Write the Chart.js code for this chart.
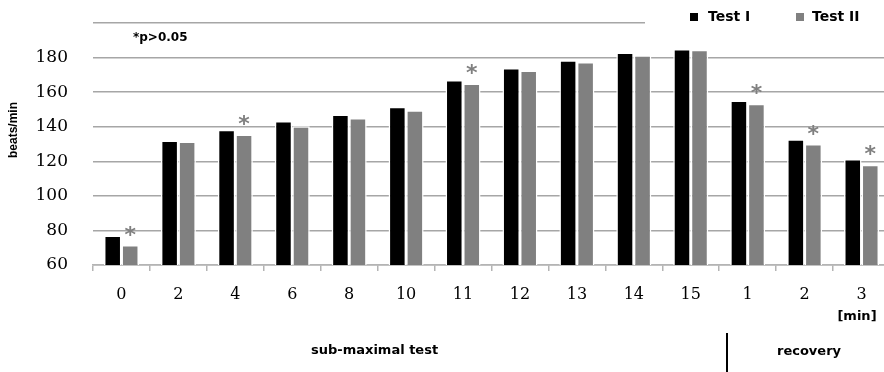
<!DOCTYPE html>
<html>
<head>
<meta charset="utf-8">
<script src="https://cdn.jsdelivr.net/npm/chart.js@4.4.1/dist/chart.umd.min.js"></script>
<style>
html,body{margin:0;padding:0;overflow:hidden;background:#fff;}
#wrap{width:890px;height:372px;}
</style>
</head>
<body>
<div id="wrap"><canvas id="c" width="890" height="372"></canvas></div>
<script>
const categories = ['0','2','4','6','8','10','11','12','13','14','15','1','2','3'];
const testI  = [77, 132, 138.3, 143.3, 147, 151.5, 167, 174, 178.5, 183, 185, 155.2, 132.8, 121.3];
const testII = [71.5, 131.5, 135.5, 140.2, 145, 149.5, 165, 172.5, 177.5, 181.3, 184.5, 153.3, 130, 118];
const significant = [true, false, true, false, false, false, true, false, false, false, false, true, true, true];
const yTicks = [60, 80, 100, 120, 140, 160, 180, 200];
const hiddenTickLabels = [200];

const BLACK = '#000000';
const GREY = '#808080';

const annotations = {
  id: 'annotations',
  beforeDatasetsDraw(chart) {
    const ctx = chart.ctx;
    ctx.save();
    ctx.fillStyle = '#ffffff';
    ctx.fillRect(645, 0, chart.width - 645, 30);
    ctx.restore();
  },
  afterDatasetsDraw(chart) {
    const ctx = chart.ctx;
    const meta = chart.getDatasetMeta(1);
    ctx.save();
    ctx.fillStyle = GREY;
    ctx.font = 'bold 22px "DejaVu Sans"';
    ctx.textAlign = 'center';
    ctx.textBaseline = 'middle';
    meta.data.forEach((bar, i) => {
      if (significant[i]) ctx.fillText('*', bar.x, bar.y - 9);
    });
    ctx.restore();
  },
  afterDraw(chart) {
    const ctx = chart.ctx;
    ctx.save();
    ctx.textBaseline = 'middle';
    ctx.textAlign = 'left';
    // legend
    ctx.fillStyle = BLACK;
    ctx.fillRect(690, 13, 8, 8);
    ctx.fillStyle = GREY;
    ctx.fillRect(796, 13, 8, 8);
    ctx.fillStyle = '#000';
    ctx.font = 'bold 14px "DejaVu Sans"';
    ctx.fillText('Test I', 708, 17);
    ctx.fillText('Test II', 812, 17);
    // significance note
    ctx.font = 'bold 12px "DejaVu Sans"';
    ctx.fillText('*p>0.05', 133, 38);
    // axis unit and phase labels
    ctx.font = 'bold 13px "DejaVu Sans"';
    ctx.textAlign = 'center';
    ctx.fillText('[min]', 857, 317);
    ctx.textAlign = 'left';
    ctx.fillText('sub-maximal test', 311, 351);
    ctx.fillText('recovery', 777, 352);
    ctx.fillRect(726, 333, 2, 39);
    // y title
    ctx.translate(14, 130);
    ctx.rotate(-Math.PI / 2);
    ctx.textAlign = 'center';
    ctx.font = 'bold 12px "Liberation Sans"';
    ctx.fillText('beats/min', 0, 0);
    ctx.restore();
  }
};

new Chart(document.getElementById('c'), {
  type: 'bar',
  data: {
    labels: categories,
    datasets: [
      { label: 'Test I', data: testI, backgroundColor: BLACK, borderColor: '#ffffff',
        borderWidth: {top: 1.5, left: 1.5, right: 1.5, bottom: 0}, borderSkipped: false },
      { label: 'Test II', data: testII, backgroundColor: GREY, borderColor: '#ffffff',
        borderWidth: {top: 1.5, left: 1.5, right: 1.5, bottom: 0}, borderSkipped: false }
    ]
  },
  options: {
    responsive: false,
    animation: false,
    events: [],
    layout: { padding: { top: 23, left: 0, right: 0, bottom: 0 } },
    datasets: { bar: { categoryPercentage: 0.615, barPercentage: 1.0 } },
    plugins: { legend: { display: false }, tooltip: { enabled: false } },
    scales: {
      x: {
        grid: { offset: true, drawOnChartArea: false, drawTicks: true, tickLength: 6, color: '#b4b4b4', lineWidth: 1.5 },
        border: { display: true, color: '#b4b4b4', width: 1.5 },
        ticks: { color: '#000', font: { family: '"DejaVu Serif"', size: 16 }, padding: 14, maxRotation: 0, autoSkip: false },
        afterFit(scale) { scale.height = 107; scale.paddingLeft = 0; scale.paddingRight = 0; }
      },
      y: {
        min: yTicks[0], max: yTicks[yTicks.length - 1],
        afterBuildTicks(scale) { scale.ticks = yTicks.map(v => ({ value: v })); },
        grid: { drawTicks: false, color: '#a6a6a6', lineWidth: 1.5 },
        border: { display: false },
        ticks: {
          autoSkip: false,
          color: (c) => hiddenTickLabels.includes(c.tick && c.tick.value) ? 'rgba(0,0,0,0)' : '#000',
          font: { family: '"DejaVu Serif"', size: 17 }, padding: 25
        },
        afterFit(scale) { scale.width = 93; scale.paddingTop = 0; scale.paddingBottom = 0; }
      }
    }
  },
  plugins: [annotations]
});
</script>
</body>
</html>
